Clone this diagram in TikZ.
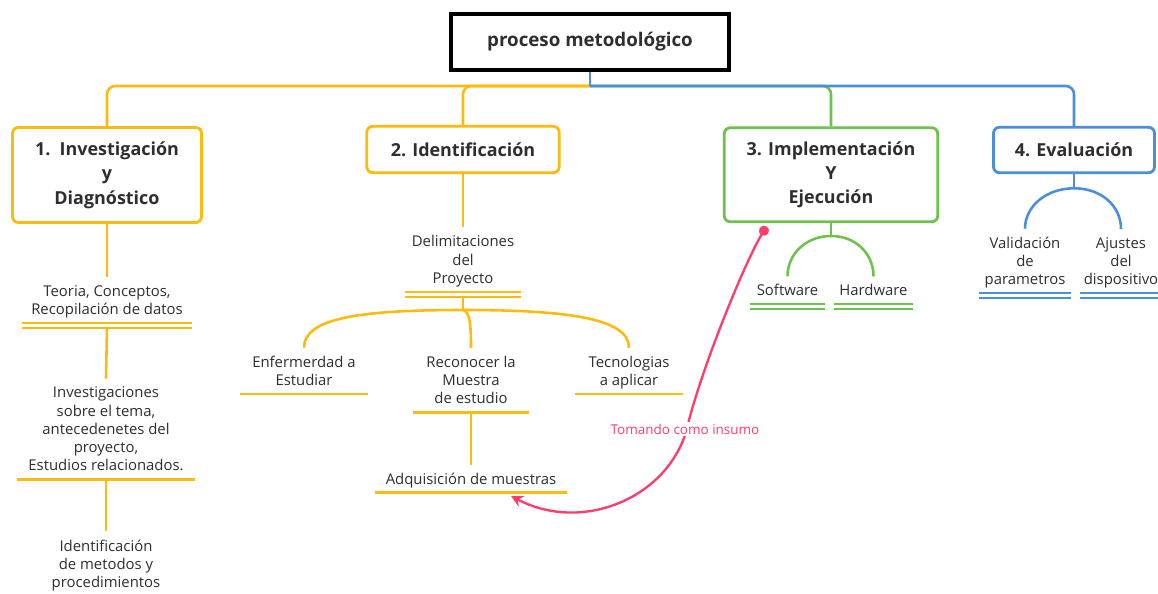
\documentclass[tikz,border=0pt]{standalone}
\usepackage{fontspec}
\setmainfont{Open Sans}
\usepackage{tikz}
\usepackage{xcolor}
\usetikzlibrary{arrows.meta}

\definecolor{ambar}{HTML}{FFBA10}
\definecolor{verde}{HTML}{6CC24A}
\definecolor{azul}{HTML}{4A8FDB}
\definecolor{rosa}{HTML}{FF3D6B}
\definecolor{tinta}{HTML}{2E2E2E}

\begin{document}
\begin{tikzpicture}[x=0.03cm, y=-0.03cm, line width=2.2pt, text=tinta]
    \tikzstyle{caja}=[draw, rounded corners=5pt, line width=2.4pt, fill=white, align=center, font=\fontsize{15.3}{20.8}\selectfont\bfseries]
    \tikzstyle{hoja}=[align=center, anchor=south, inner xsep=0pt, inner ysep=6pt, text depth=0pt, font=\fontsize{12.7}{15.6}\selectfont]
    \tikzstyle{raya}=[line width=2.4pt]
    \tikzstyle{doble}=[line width=1.6pt, double=white, double distance=2.6pt]

    \useasboundingbox (0,0) rectangle (1158,594);

    % titulo y ramas principales
    \node[draw, line width=3.6pt, minimum width=8.34cm, minimum height=1.70cm, font=\fontsize{16}{18}\selectfont\bfseries] (raiz) at (590,42) {proceso metodológico};
    \node[caja, draw=ambar, minimum width=5.67cm, minimum height=2.85cm] (b1) at (107,175) {1.\ \ Investigación\\y\\Diagnóstico};
    \node[caja, draw=ambar, minimum width=5.77cm, minimum height=1.39cm] (b2) at (463,149.5) {2. Identificación};
    \node[caja, draw=verde, minimum width=6.40cm, minimum height=2.82cm] (b3) at (831,174.8) {3. Implementación\\Y\\Ejecución};
    \node[caja, draw=azul, minimum width=4.83cm, minimum height=1.36cm] (b4) at (1074,150) {4. Evaluación};

    \coordinate (hub) at (590,86);
    \draw[ambar, rounded corners=7pt] (hub) -| (b1.north);
    \draw[ambar, rounded corners=7pt] (hub) -| (b2.north);
    \draw[verde, rounded corners=7pt] (hub) -| (b3.north);
    \draw[azul, rounded corners=7pt] (hub) -| (b4.north);
    \draw[azul] (raiz.south) -- (hub);

    % 1. investigacion
    \node[hoja, minimum width=5.05cm] (teo) at (107,322.7) {Teoria, Conceptos,\\Recopilación de datos};
    \node[hoja, minimum width=5.27cm] (inv) at (106,479.3) {Investigaciones\\ sobre el tema,\\antecedenetes del\\proyecto,\\Estudios relacionados.};
    \node[hoja] (ide) at (106,596) {Identificación\\ de metodos y\\procedimientos};
    \draw[ambar] (b1.south) -- (teo.north);
    \draw[ambar] ([yshift=-4.2pt]teo.south) -- (inv.north);
    \draw[ambar] ([yshift=-1.2pt]inv.south) -- (ide.north);
    \draw[ambar, doble] ([yshift=-2.1pt]teo.south west) -- ([yshift=-2.1pt]teo.south east);
    \draw[ambar, raya] (inv.south west) -- (inv.south east);

    % 2. identificacion
    \node[hoja, minimum width=3.38cm] (del) at (463,291.7) {Delimitaciones\\del\\Proyecto};
    \node[hoja, minimum width=3.75cm] (enf) at (304,394) {Enfermerdad a\\Estudiar};
    \node[hoja, minimum width=3.42cm] (rec) at (471,412.3) {Reconocer la\\Muestra\\de estudio};
    \node[hoja, minimum width=3.19cm] (tec) at (629,394) {Tecnologias\\a aplicar};
    \node[hoja, minimum width=5.66cm] (adq) at (471,492.7) {Adquisición de muestras};
    \coordinate (dh) at (463,310);
    \draw[ambar] (b2.south) -- (del.north);
    \draw[ambar] ([yshift=-4.2pt]del.south) -- (dh);
    \draw[ambar] (dh) .. controls (360,310) and (304,318) .. (enf.north);
    \draw[ambar] (dh) .. controls (470,312) and (471,325) .. (rec.north);
    \draw[ambar] (dh) .. controls (566,310) and (629,318) .. (tec.north);
    \draw[ambar] ([yshift=-1.2pt]rec.south) -- (adq.north);
    \draw[ambar, doble] ([yshift=-2.1pt]del.south west) -- ([yshift=-2.1pt]del.south east);
    \foreach \n in {enf, rec, tec, adq}
        \draw[ambar, raya] (\n.south west) -- (\n.south east);

    % 3. implementacion
    \node[hoja, minimum width=2.19cm] (sof) at (787.5,304.3) {Software};
    \node[hoja, minimum width=2.31cm] (har) at (873.5,304.3) {Hardware};
    \coordinate (gh) at (831,236);
    \draw[verde] (b3.south) -- (gh);
    \draw[verde] (gh) .. controls (806,236) and (787.5,254) .. (sof.north);
    \draw[verde] (gh) .. controls (856,236) and (873.5,254) .. (har.north);
    \foreach \n in {sof, har}
        \draw[verde, doble] ([yshift=-2.1pt]\n.south west) -- ([yshift=-2.1pt]\n.south east);

    % 4. evaluacion
    \node[hoja, minimum width=2.7cm] (val) at (1025,293.3) {Validación\\de\\parametros};
    \node[hoja, minimum width=2.4cm] (aju) at (1121,293.3) {Ajustes\\del\\dispositivo};
    \coordinate (bh) at (1074,188.3);
    \draw[azul] (b4.south) -- (bh);
    \draw[azul] (bh) .. controls (1046.5,188.3) and (1025,206) .. (val.north);
    \draw[azul] (bh) .. controls (1101.5,188.3) and (1121,206) .. (aju.north);
    \foreach \n in {val, aju}
        \draw[azul, doble] ([yshift=-2.1pt]\n.south west) -- ([yshift=-2.1pt]\n.south east);

    % relacion
    \coordinate (ori) at (766.5,226.5);
    \coordinate (dst) at (511,496);
    \draw[rosa, line width=2pt, {Circle[length=8.5pt]}-{Stealth[length=10pt, width=10pt]}] (ori) .. controls (745,262) and (705,360) .. (689,420) .. controls (675,495) and (585,535) .. (dst);
    \node[fill=white, text=rosa, inner sep=1.5pt, font=\fontsize{11.5}{12}\selectfont] (tom) at (685,429) {Tomando como insumo};
\end{tikzpicture}
\end{document}
